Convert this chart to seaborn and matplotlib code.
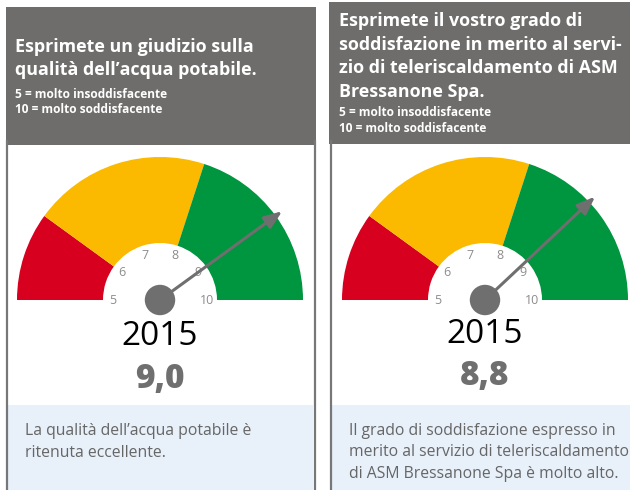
import numpy as np
import pandas as pd
import matplotlib
matplotlib.use("Agg")
import matplotlib.pyplot as plt
from matplotlib.patches import Wedge, Rectangle
import seaborn as sns

# ---------------- data ----------------
titles = [
    ["Esprimete un giudizio sulla", "qualità dell\u2019acqua potabile."],
    ["Esprimete il vostro grado di", "soddisfazione in merito al servi-",
     "zio di teleriscaldamento di ASM", "Bressanone Spa."],
]
scale_notes = ["5 = molto insoddisfacente", "10 = molto soddisfacente"]
years = ["2015", "2015"]
scores = [9.0, 8.8]
score_labels = ["9,0", "8,8"]
band_edges = [5, 6, 8, 10]
band_colors = ["#d7001f", "#fbba00", "#00953f"]
tick_values = [5, 6, 7, 8, 9, 10]
notes = [
    ["La qualità dell\u2019acqua potabile è", "ritenuta eccellente."],
    ["Il grado di soddisfazione espresso in",
     "merito al servizio di teleriscaldamento",
     "di ASM Bressanone Spa è molto alto."],
]

# ---------------- style ----------------
sns.set_theme(style="white")
plt.rcParams["font.family"] = ["Open Sans", "DejaVu Sans"]

W, H = 630, 490
fig = plt.figure(figsize=(W / 100, H / 100), dpi=100)
ax = fig.add_axes([0, 0, 1, 1])
ax.set_xlim(0, W)
ax.set_ylim(H, 0)
ax.set_axis_off()

GRAY = "#6e6d6b"
BLUE = "#e8f0fa"
TXT = "#666666"

# panel layout (pixels)
panels = [
    dict(x0=6, x1=316, top=7, hdr=145, cx=160, cy=300, tx=15,
         title_y=[52, 75], sub_y=[98, 113], year_y=336, val_y=379,
         note_y=[431, 453], note_x=25, bx0=8, bx1=313),
    dict(x0=329, x1=632, top=2, hdr=144, cx=485, cy=300, tx=339,
         title_y=[26, 50, 73, 97], sub_y=[116, 132], year_y=334, val_y=376,
         note_y=[431, 452, 474], note_x=349, bx0=332, bx1=632),
]

R_OUT, R_IN = 143, 57
vmin, vmax = band_edges[0], band_edges[-1]


def ang(v):
    return 180.0 - 180.0 * (v - vmin) / (vmax - vmin)


hub_rows = []
for i, p in enumerate(panels):
    # header
    ax.add_patch(Rectangle((p["x0"], p["top"]), p["x1"] - p["x0"], p["hdr"] - p["top"],
                           color=GRAY, lw=0, zorder=1))
    for line, y in zip(titles[i], p["title_y"]):
        ax.text(p["tx"], y, line, color="white", fontsize=12.9, fontweight="bold",
                va="baseline", ha="left", zorder=3)
    for line, y in zip(scale_notes, p["sub_y"]):
        ax.text(p["tx"], y, line, color="white", fontsize=8.6, fontweight="bold",
                va="baseline", ha="left", zorder=3)
    # blue note box
    ax.add_patch(Rectangle((p["bx0"], 405), p["bx1"] - p["bx0"], H - 405,
                           color=BLUE, lw=0, zorder=1))
    for line, y in zip(notes[i], p["note_y"]):
        ax.text(p["note_x"], y, line, color=TXT, fontsize=11.3,
                va="center", ha="left", zorder=3)

    cx, cy = p["cx"], p["cy"]
    # gauge bands (y axis inverted -> negative angles)
    for lo, hi, col in zip(band_edges[:-1], band_edges[1:], band_colors):
        ax.add_patch(Wedge((cx, cy), R_OUT, -ang(lo), -ang(hi), width=R_OUT - R_IN,
                           facecolor=col, edgecolor="none", zorder=2))
    # tick labels
    for v in tick_values:
        a = np.deg2rad(ang(v))
        r = 47
        ax.text(cx + r * np.cos(a), cy - r * np.sin(a), str(v), color="#8c8c8c",
                fontsize=9, ha="center", va="center", zorder=3)
    # needle
    a = np.deg2rad(ang(scores[i]))
    L = 151
    ax.annotate("", xy=(cx + L * np.cos(a), cy - L * np.sin(a)), xytext=(cx, cy),
                arrowprops=dict(arrowstyle="-|>,head_length=0.9,head_width=0.35",
                                color="#6f6f6f", lw=2.2, shrinkA=0, shrinkB=0),
                zorder=4)
    hub_rows.append(dict(x=cx, y=cy, score=scores[i]))
    # year and score
    ax.text(cx, p["year_y"], years[i], color="black", fontsize=24, ha="center",
            va="center", zorder=3)
    ax.text(cx, p["val_y"], score_labels[i], color="#6f6f6f", fontsize=24,
            fontweight="heavy", ha="center", va="center", zorder=3)

hubs = pd.DataFrame(hub_rows)
sns.scatterplot(data=hubs, x="x", y="y", s=480, color="#6f6f6f", edgecolor="none",
                ax=ax, zorder=5, legend=False)
ax.set_xlim(0, W)
ax.set_ylim(H, 0)
ax.set_axis_off()

# panel borders
for x in [7, 314.5, 331]:
    ax.plot([x, x], [140, H], color="#777777", lw=1.6, zorder=6,
            solid_capstyle="butt")

fig.savefig("out.png", dpi=100, facecolor="white")
